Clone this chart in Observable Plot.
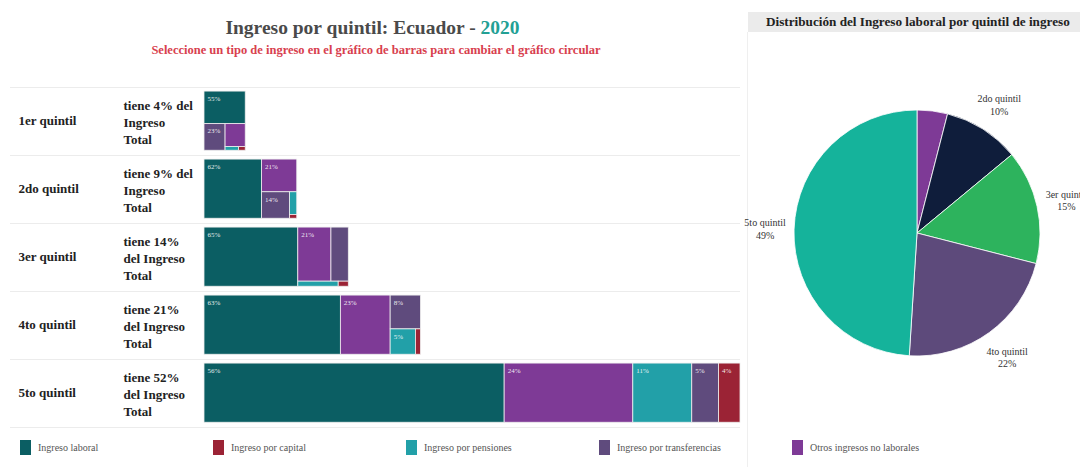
<!DOCTYPE html>
<html><head><meta charset="utf-8">
<script src="https://cdn.jsdelivr.net/npm/d3@7"></script>
<script src="https://cdn.jsdelivr.net/npm/@observablehq/plot@0.6"></script>
<style>
body{margin:0;width:1080px;height:467px;background:#fff;font-family:"Liberation Serif",serif;position:relative;overflow:hidden}
#title{position:absolute;left:0;width:745px;top:17px;text-align:center;font-weight:bold;font-size:19.5px;color:#4a4a4a}
#title span{color:#22a094}
#subtitle{position:absolute;left:0;width:752px;top:43px;text-align:center;font-weight:bold;font-size:12.5px;color:#d8404e}
#bars{position:absolute;left:0;top:80px}
#pietitle{position:absolute;left:748px;top:12px;width:314px;height:20px;line-height:20px;background:#ebebeb;font-weight:bold;font-size:13.2px;color:#222;padding-left:18px;white-space:nowrap;overflow:hidden}
#pie{position:absolute;left:748px;top:35px}
#panelline{position:absolute;left:747px;top:32px;width:1px;height:435px;background:#efefef}
#legend{position:absolute;left:0;top:440px;width:1080px;height:16px}
.li{position:absolute;top:0;display:flex;align-items:center;font-size:10px;color:#555}
.sw{width:11px;height:15px;margin-right:7px}
</style></head>
<body>
<div id="title"></div>
<div id="subtitle"></div>
<div id="bars"></div>
<div id="panelline"></div>
<div id="pietitle"></div>
<div id="pie"></div>
<div id="legend"></div>
<script>
// ---- data ----
const country = "Ecuador";
const year = "2020";
const quintiles = ["1er quintil", "2do quintil", "3er quintil", "4to quintil", "5to quintil"];
const totalShare = [4, 9, 14, 21, 52];
const incomeTypes = ["Ingreso laboral", "Ingreso por capital", "Ingreso por pensiones", "Ingreso por transferencias", "Otros ingresos no laborales"];
const typeColors = ["#0b5e63", "#9b2335", "#22a0a8", "#5f4b7d", "#7e3a96"];
const laboral = [55, 62, 65, 63, 56];
const capital = [1, 0.5, 0.6, 1, 4];
const pensiones = [2, 3, 2.4, 5, 11];
const transferencias = [23, 13.5, 11, 8, 5];
const otros = [19, 21, 21, 23, 24];
const pieValues = [4, 10, 15, 22, 49];
const pieColors = ["#7e3a96", "#0f1d3b", "#2db35d", "#5d4a7b", "#15b39b"];

const typeValues = [laboral, capital, pensiones, transferencias, otros];

document.getElementById("title").innerHTML = `Ingreso por quintil: ${country} - <span>${year}</span>`;
document.getElementById("subtitle").textContent = "Seleccione un tipo de ingreso en el gráfico de barras para cambiar el gráfico circular";
document.getElementById("pietitle").textContent = "Distribución del Ingreso laboral por quintil de ingreso";

// ---- bar/treemap chart ----
const W = 745, H = 352, mL = 204, mR = 5, mT = 7, mB = 5;
const xMax = d3.max(totalShare);
const kx = (W - mL - mR) / xMax;            // px per share unit
const ky = (H - mT - mB) / quintiles.length; // px per row unit
const rowTop = 0.06, rowH = 0.87;

const cells = [];
quintiles.forEach((q, i) => {
  const root = d3.hierarchy({children: incomeTypes.map((t, j) => ({type: t, value: typeValues[j][i]}))})
    .sum(d => d.value || 0)
    .sort((a, b) => b.value - a.value);
  d3.treemap().tile(d3.treemapSquarify.ratio(1.58)).size([totalShare[i] * kx, rowH * ky])(root);
  root.leaves().forEach(n => {
    cells.push({
      quintil: q, type: n.data.type, value: n.data.value,
      x1: n.x0 / kx, x2: n.x1 / kx,
      y1: i + rowTop + n.y0 / ky, y2: i + rowTop + n.y1 / ky,
      pw: n.x1 - n.x0, ph: n.y1 - n.y0
    });
  });
});

const rows = quintiles.map((q, i) => ({
  q, i, total: totalShare[i],
  desc: totalShare[i] < 10 ? `tiene ${totalShare[i]}% del\nIngreso\nTotal` : `tiene ${totalShare[i]}%\ndel Ingreso\nTotal`
}));

const bars = Plot.plot({
  width: W, height: H,
  marginLeft: mL, marginRight: mR, marginTop: mT, marginBottom: mB,
  x: {domain: [0, xMax], axis: null},
  y: {domain: [0, quintiles.length], range: [mT, H - mB], axis: null},
  color: {domain: incomeTypes, range: typeColors},
  style: {fontFamily: "Liberation Serif", background: "transparent"},
  marks: [
    Plot.ruleY(d3.range(quintiles.length + 1), {stroke: "#ececec", insetLeft: -194, insetRight: 0}),
    Plot.rect(cells, {x1: "x1", x2: "x2", y1: "y1", y2: "y2", fill: "type", stroke: "#eeeeee", strokeWidth: 0.8}),
    Plot.text(cells.filter(d => d.pw >= 20.5 && d.ph >= 15), {
      x: "x1", y: "y1", text: d => `${Math.round(d.value)}%`, dx: 3, dy: 7,
      textAnchor: "start", fill: "white", fontSize: 7, fillOpacity: 0.9
    }),
    Plot.text(rows, {x: () => 0, y: d => d.i + rowTop + rowH / 2, text: "q", dx: -186,
      textAnchor: "start", fontWeight: "bold", fontSize: 13, fill: "#222"}),
    Plot.text(rows, {x: () => 0, y: d => d.i + rowTop + rowH / 2, text: "desc", dx: -81,
      textAnchor: "start", fontWeight: "bold", fontSize: 13, lineHeight: 1.32, fill: "#222"})
  ]
});
document.getElementById("bars").appendChild(bars);

// ---- pie ----
const pieData = quintiles.map((q, i) => ({q, value: pieValues[i], color: pieColors[i]}));
const arcs = d3.pie().sort(null).value(d => d.value)(pieData);
const labelR = 1.24;
const pieLabels = arcs.filter(a => a.data.value >= 5).map(a => {
  const m = (a.startAngle + a.endAngle) / 2;
  return {x: labelR * Math.sin(m), y: -labelR * Math.cos(m), text: `${a.data.q}\n${a.data.value}%`};
});

const pie = Plot.plot({
  width: 332, height: 400,
  margin: 0,
  x: {domain: [-1, 1], range: [46, 292], axis: null},
  y: {domain: [-1, 1], range: [75, 321], axis: null},
  style: {fontFamily: "Liberation Serif", background: "transparent", overflow: "visible"},
  marks: [
    (index, scales) => {
      const cx = scales.x(0), cy = scales.y(0), r = scales.x(1) - scales.x(0);
      const g = d3.create("svg:g").attr("transform", `translate(${cx},${cy})`);
      const arc = d3.arc().innerRadius(0).outerRadius(r);
      g.selectAll("path").data(arcs).join("path")
        .attr("d", arc).attr("fill", d => d.data.color)
        .attr("stroke", "white").attr("stroke-width", 0.8);
      return g.node();
    },
    Plot.text(pieLabels, {x: "x", y: "y", text: "text", fontSize: 10, fill: "#333", lineHeight: 1.25})
  ]
});
document.getElementById("pie").appendChild(pie);

// ---- legend ----
const legend = document.getElementById("legend");
incomeTypes.forEach((t, j) => {
  const item = document.createElement("div");
  item.className = "li";
  item.style.left = (20 + j * 193) + "px";
  item.innerHTML = `<div class="sw" style="background:${typeColors[j]}"></div><span>${t}</span>`;
  legend.appendChild(item);
});
</script>
</body></html>
